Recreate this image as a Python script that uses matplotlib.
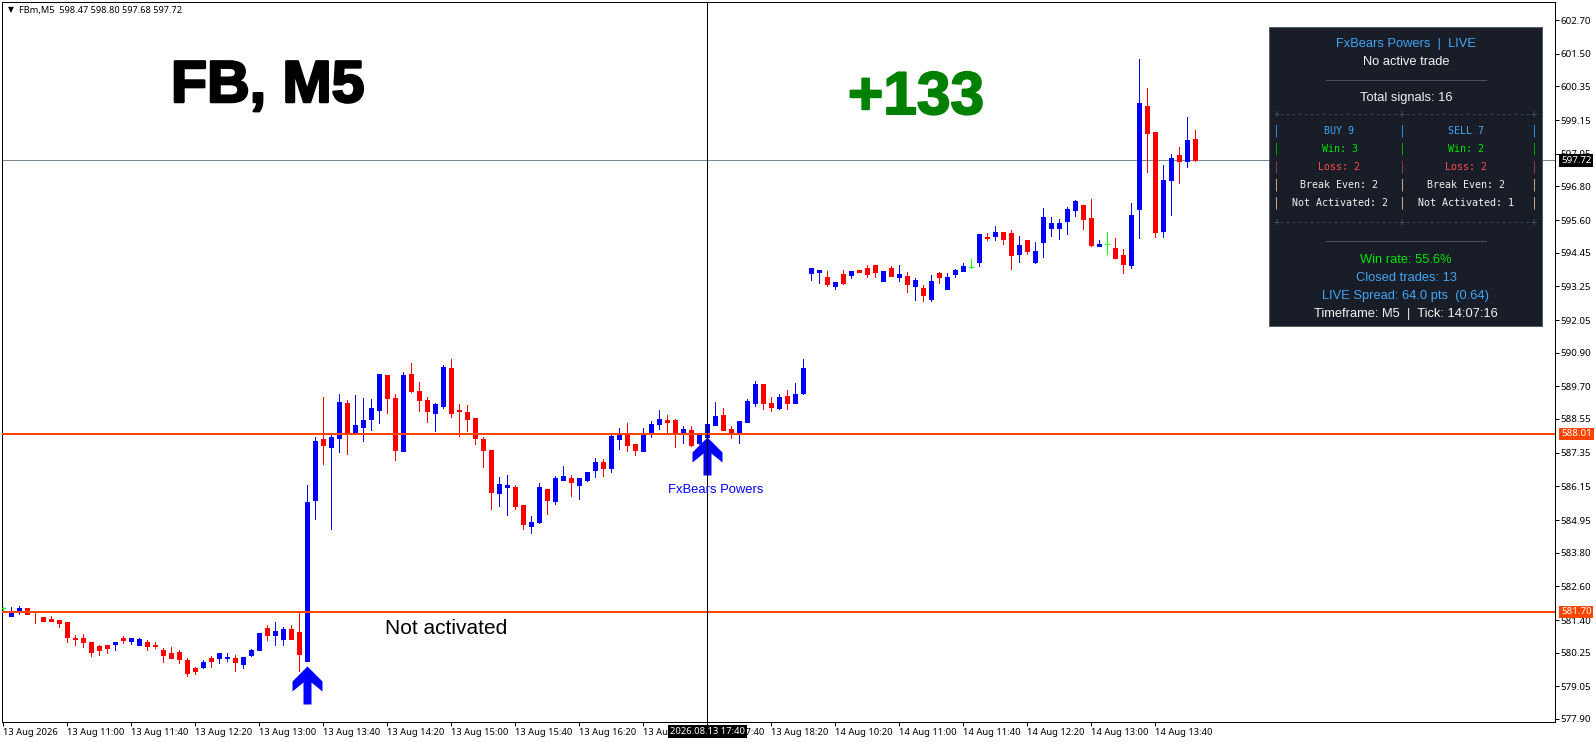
"""
FxBears Powers screenshot: FBm M5 candles with signal arrows and the stats panel.
"""

import matplotlib

matplotlib.use("Agg")
import matplotlib.patheffects as pe
import matplotlib.pyplot as plt
import numpy as np
from matplotlib.path import Path

# prices, one entry per M5 bar
opens = np.array([
    581.85, 581.56, 581.70, 581.83, 581.70, 581.51, 581.44, 581.41, 581.34, 580.78,
    580.77, 580.63, 580.49, 580.52, 580.56, 580.78, 580.66, 580.52, 580.63, 580.52,
    580.34, 580.24, 580.27, 579.99, 579.71, 579.74, 580.06, 580.06, 580.06, 580.06,
    579.85, 580.17, 580.34, 581.12, 580.88, 580.73, 581.09, 580.98, 579.95, 585.67,
    587.83, 587.55, 587.87, 589.11, 588.01, 588.26, 588.54, 588.86, 590.10, 589.29,
    587.41, 590.14, 589.54, 589.22, 588.75, 589.00, 590.35, 588.86, 588.79, 588.58,
    587.83, 587.44, 585.92, 586.13, 586.13, 585.49, 584.75, 584.89, 586.06, 585.63,
    586.38, 586.45, 586.20, 586.38, 586.73, 587.02, 586.80, 587.83, 587.97, 587.65,
    587.41, 588.08, 588.36, 588.51, 588.51, 588.05, 588.15, 587.69, 587.92, 588.33,
    588.68, 588.19, 588.08, 588.43, 589.11, 589.78, 589.11, 588.93, 589.36, 589.11,
    589.46, 593.72, 593.76, 593.58, 593.26, 593.69, 593.65, 593.83, 593.90, 594.01,
    593.44, 593.90, 593.58, 593.62, 593.26, 593.19, 592.80, 593.72, 593.15, 593.69,
    593.79, 593.92, 594.11, 595.00, 595.04, 595.18, 595.14, 594.40, 594.89, 594.11,
    594.82, 595.32, 595.32, 595.57, 595.96, 596.14, 595.67, 594.68, 594.74, 594.61,
    594.36, 594.01, 595.99, 599.65, 598.73, 595.21, 597.02, 597.91, 597.70, 598.47,
])
highs = np.array([
    581.86, 581.88, 581.91, 581.83, 581.70, 581.51, 581.55, 581.41, 581.34, 580.88,
    580.91, 580.63, 580.52, 580.52, 580.63, 580.84, 580.77, 580.76, 580.70, 580.63,
    580.41, 580.45, 580.34, 580.06, 579.74, 579.99, 580.13, 580.24, 580.24, 580.17,
    580.10, 580.38, 580.95, 581.23, 581.34, 581.16, 581.23, 581.70, 586.20, 587.90,
    589.32, 587.97, 589.43, 589.22, 589.39, 589.29, 589.25, 590.14, 590.10, 589.44,
    590.21, 590.53, 589.85, 589.32, 589.11, 590.46, 590.67, 589.07, 589.04, 588.58,
    587.90, 587.44, 586.48, 586.55, 586.20, 585.49, 585.10, 586.27, 586.06, 586.52,
    586.87, 586.55, 586.45, 586.66, 587.16, 587.12, 587.97, 588.22, 588.40, 587.65,
    588.22, 588.47, 588.86, 588.68, 588.54, 588.29, 588.29, 587.97, 588.36, 589.14,
    588.93, 588.29, 588.47, 589.25, 589.89, 589.78, 589.32, 589.43, 589.57, 589.82,
    590.67, 593.90, 593.83, 593.79, 593.40, 593.83, 593.79, 593.83, 594.01, 594.01,
    593.79, 593.97, 594.01, 593.76, 593.54, 593.30, 593.65, 593.76, 593.72, 593.87,
    594.08, 594.22, 595.11, 595.14, 595.39, 595.18, 595.25, 595.04, 594.89, 594.82,
    596.03, 595.71, 595.64, 596.07, 596.31, 596.14, 596.35, 594.89, 595.18, 594.96,
    594.57, 596.21, 601.32, 600.29, 598.73, 597.55, 597.95, 598.19, 599.26, 598.80,
])
lows = np.array([
    581.69, 581.56, 581.62, 581.63, 581.31, 581.37, 581.37, 581.17, 580.64, 580.53,
    580.45, 580.13, 580.17, 580.24, 580.34, 580.59, 580.56, 580.52, 580.34, 580.41,
    579.92, 580.06, 579.88, 579.42, 579.49, 579.71, 579.74, 579.88, 579.95, 579.60,
    579.71, 580.13, 580.34, 580.70, 580.52, 580.52, 580.73, 579.60, 579.95, 584.99,
    586.94, 584.64, 587.37, 587.30, 588.01, 587.76, 588.15, 588.40, 588.75, 587.09,
    587.41, 589.50, 588.83, 588.43, 588.12, 588.93, 588.61, 587.94, 588.12, 587.65,
    586.84, 585.35, 585.45, 585.13, 585.35, 584.64, 584.50, 584.85, 585.17, 585.53,
    586.38, 585.81, 585.70, 586.34, 586.48, 586.52, 586.66, 587.48, 587.41, 587.26,
    587.41, 587.90, 588.19, 588.01, 587.55, 587.69, 587.58, 587.65, 587.86, 588.33,
    588.15, 587.87, 587.69, 588.43, 589.00, 588.90, 588.83, 588.90, 588.90, 589.11,
    589.43, 593.47, 593.37, 593.26, 593.15, 593.33, 593.54, 593.76, 593.58, 593.58,
    593.44, 593.62, 593.44, 593.05, 592.77, 592.73, 592.73, 593.37, 593.15, 593.58,
    593.79, 593.90, 593.97, 594.89, 594.89, 594.75, 593.87, 594.11, 594.40, 594.08,
    594.29, 595.04, 594.93, 595.11, 595.75, 595.28, 594.68, 594.68, 594.40, 594.25,
    593.72, 593.90, 594.96, 597.31, 595.00, 595.00, 595.78, 596.92, 597.49, 597.68,
])
closes = np.array([
    581.85, 581.70, 581.83, 581.63, 581.68, 581.37, 581.37, 581.30, 580.82, 580.75,
    580.63, 580.27, 580.34, 580.41, 580.63, 580.70, 580.77, 580.73, 580.49, 580.49,
    580.17, 580.06, 580.03, 579.53, 579.60, 579.92, 579.95, 580.24, 580.10, 579.92,
    580.10, 580.34, 580.95, 580.88, 581.02, 581.09, 580.73, 580.20, 585.60, 587.76,
    587.62, 587.90, 589.14, 588.01, 588.33, 588.51, 588.93, 590.14, 589.29, 587.44,
    590.10, 589.54, 589.22, 588.83, 589.07, 590.39, 588.75, 588.83, 588.54, 587.87,
    587.44, 585.95, 586.24, 586.20, 585.45, 584.82, 584.89, 586.13, 585.67, 586.45,
    586.52, 586.31, 586.45, 586.66, 587.02, 586.80, 587.94, 587.97, 587.62, 587.44,
    587.97, 588.36, 588.54, 588.43, 588.05, 588.19, 587.62, 587.97, 588.36, 588.65,
    588.15, 588.01, 588.47, 589.18, 589.78, 589.11, 588.97, 589.32, 589.11, 589.43,
    590.35, 593.90, 593.83, 593.33, 593.40, 593.37, 593.79, 593.76, 593.69, 593.76,
    593.79, 593.62, 593.69, 593.33, 593.47, 592.94, 593.44, 593.58, 593.58, 593.83,
    593.97, 593.92, 595.11, 594.95, 595.18, 594.93, 594.36, 594.72, 594.50, 594.50,
    595.71, 595.50, 595.50, 595.99, 596.28, 595.64, 594.72, 594.75, 594.74, 594.25,
    594.04, 595.78, 599.76, 598.69, 595.18, 597.02, 597.80, 597.70, 598.44, 597.72,
])

price_ticks = [602.70, 601.50, 600.35, 599.15, 597.95, 596.80, 595.60, 594.45, 593.25, 592.05, 590.90,
               589.70, 588.55, 587.35, 586.15, 584.95, 583.80, 582.60, 581.40, 580.25, 579.05, 577.90]
time_labels = ["13 Aug 2026", "13 Aug 11:00", "13 Aug 11:40", "13 Aug 12:20", "13 Aug 13:00", "13 Aug 13:40",
               "13 Aug 14:20", "13 Aug 15:00", "13 Aug 15:40", "13 Aug 16:20", "13 Aug 17:00", "13 Aug 17:40",
               "13 Aug 18:20", "14 Aug 10:20", "14 Aug 11:00", "14 Aug 11:40", "14 Aug 12:20", "14 Aug 13:00",
               "14 Aug 13:40"]
TICK_EVERY = 8

level_prices = [588.01, 581.70]
last_price = 597.72
cursor_bar = 88
arrow_bars = [38, 88]
arrow_prices = [579.10, 587.23]

WIDTH, HEIGHT = 1596, 743
AX_LEFT, AX_RIGHT, AX_TOP, AX_BOTTOM = 2, 1555, 2, 722
SMALL_FONT = "Noto Sans"
UI_FONT = "Liberation Sans"
MONO_FONT = "DejaVu Sans Mono"
PX = 0.72  # one pixel in points at dpi 100

fig = plt.figure(figsize=(WIDTH / 100, HEIGHT / 100), dpi=100, facecolor="white")
ax = fig.add_axes([AX_LEFT / WIDTH, 1 - AX_BOTTOM / HEIGHT, (AX_RIGHT - AX_LEFT) / WIDTH, (AX_BOTTOM - AX_TOP) / HEIGHT])
ax.set_xlim(-0.1875, 193.94)
ax.set_ylim(577.79, 603.339)
for spine in ax.spines.values():
    spine.set_linewidth(PX)
    spine.set_color("black")

x = np.arange(len(opens))
colors = np.where(closes > opens, "#0000FF", np.where(closes < opens, "#FF0000", "#00FF00"))

ax.axhline(last_price, color="#778899", lw=PX, zorder=1)
ax.vlines(x, lows, highs, colors=colors, lw=PX, antialiased=False, zorder=3)
bottoms = np.minimum(opens, closes)
heights = np.abs(closes - opens)
ax.bar(x, heights, bottom=bottoms, width=0.5, color=colors, edgecolor=colors, linewidth=PX, antialiased=False, zorder=3)
for level in level_prices:
    ax.axhline(level, color="#FF4500", lw=2 * PX, zorder=4)

# signal arrows, outline in pixels around the marker centre
arrow_verts = [(0, 19), (15, 4), (15, -6), (4, 3), (4, -19), (-4, -19), (-4, 3), (-15, -6), (-15, 4), (0, 19)]
arrow_marker = Path(arrow_verts, closed=True)
ax.plot(arrow_bars, arrow_prices, ls="none", marker=arrow_marker, ms=38 * PX, mfc="#0000FF", mec="none", zorder=5)
ax.axvline(cursor_bar, color="black", lw=PX, zorder=6)

# axes
ax.yaxis.tick_right()
ax.set_yticks(price_ticks, labels=[f"{p:.2f}" for p in price_ticks], fontfamily=SMALL_FONT, fontsize=7)
ax.tick_params(axis="y", length=3.2, width=PX, pad=0.8, color="black")
tick_bars = np.arange(len(time_labels)) * TICK_EVERY
ax.set_xticks(tick_bars, labels=time_labels, ha="left", fontfamily=SMALL_FONT, fontsize=6.8)
ax.tick_params(axis="x", length=3, width=PX, pad=1.2, color="black")

# price tags on the right scale
label_x = 1 + 6 / (AX_RIGHT - AX_LEFT)
for price, bg in [(last_price, "black"), (level_prices[0], "#FF4500"), (level_prices[1], "#FF4500")]:
    ax.text(label_x, price, f"{price:.2f}", transform=ax.get_yaxis_transform(), va="center", ha="left", color="white",
            fontfamily=SMALL_FONT, fontsize=7, clip_on=False, zorder=20,
            bbox=dict(boxstyle="square,pad=0.18", fc=bg, ec=bg, lw=0))

# cursor time tag
ax.text(cursor_bar, 577.79 - 9.5 / 28.18, "2026.08.13 17:40", ha="center", va="center", color="white",
        fontfamily=SMALL_FONT, fontsize=6.8, clip_on=False, zorder=20,
        bbox=dict(boxstyle="square,pad=0.2", fc="black", ec="black", lw=0))

# labels drawn on the chart, placed in figure pixels
def fig_text(px, py, s, **kw):
    fig.text(px / WIDTH, 1 - py / HEIGHT, s, **kw)


fig_text(8, 10, "▼", family="DejaVu Sans", fontsize=5.5, ha="left", va="center")
fig_text(19, 10, "FBm,M5  598.47 598.80 597.68 597.72", family=SMALL_FONT, fontsize=6.6, ha="left", va="center")

bold = [pe.withStroke(linewidth=1.8, foreground="black")]
fig_text(171, 102, "FB, M5", family=UI_FONT, weight="bold", fontsize=42.5, ha="left", va="baseline", path_effects=bold)
bold_green = [pe.withStroke(linewidth=1.4, foreground="#008000")]
fig_text(848, 114, "+133", family=UI_FONT, weight="bold", fontsize=43.5, color="#008000", ha="left", va="baseline",
         path_effects=bold_green)
fig_text(385, 634, "Not activated", family=UI_FONT, fontsize=15, ha="left", va="baseline")
fig_text(668, 490, "FxBears Powers", family=UI_FONT, fontsize=9.4, color="#0000FF", ha="left", va="center")

# stats panel, its own axes in pixel units
P_LEFT, P_RIGHT, P_TOP, P_BOTTOM = 1269, 1542, 27, 326
panel = fig.add_axes([P_LEFT / WIDTH, 1 - P_BOTTOM / HEIGHT, (P_RIGHT - P_LEFT) / WIDTH, (P_BOTTOM - P_TOP) / HEIGHT],
                     zorder=10, facecolor="#181D27")
panel.set_xlim(P_LEFT, P_RIGHT)
panel.set_ylim(P_BOTTOM, P_TOP)
panel.set_xticks([])
panel.set_yticks([])
for spine in panel.spines.values():
    spine.set_color("#555B66")
    spine.set_linewidth(PX)

BLUE, GREEN, RED, WHITE = "#42A5F5", "#00E600", "#FF4D4D", "#F2F2F2"
CENTER = 1406
header_rows = [(44.5, "FxBears Powers  |  LIVE", BLUE), (62, "No active trade", WHITE), (98, "Total signals: 16", WHITE),
               (260, "Win rate: 55.6%", GREEN), (278, "Closed trades: 13", BLUE),
               (296, "LIVE Spread: 64.0 pts  (0.64)", BLUE), (314, "Timeframe: M5  |  Tick: 14:07:16", WHITE)]
for py, s, c in header_rows:
    panel.text(CENTER, py, s, color=c, family=UI_FONT, fontsize=9.3, ha="center", va="center")

for py in [79.5, 241]:
    panel.plot([1326, 1486], [py, py], color="#4A505C", lw=PX)

rule = "+" + "-" * 20 + "+" + "-" * 21 + "+"
for py in [114, 222]:
    panel.text(1274, py, rule, color="#47566A", family=MONO_FONT, fontsize=7.2, ha="left", va="center")

buy_rows = ["BUY 9", "Win: 3", "Loss: 2", "Break Even: 2", "Not Activated: 2"]
sell_rows = ["SELL 7", "Win: 2", "Loss: 2", "Break Even: 2", "Not Activated: 1"]
row_colors = [BLUE, GREEN, RED, WHITE, WHITE]
bar_colors = ["#2E86DE", "#00A000", "#8A3A44", "#C8A888", "#C8A888"]
row_ys = [131, 149, 167, 185, 203]
for py, b, s, c, bc in zip(row_ys, buy_rows, sell_rows, row_colors, bar_colors):
    panel.text(1339.5, py, b, color=c, family=MONO_FONT, fontsize=7.2, ha="center", va="center")
    panel.text(1466, py, s, color=c, family=MONO_FONT, fontsize=7.2, ha="center", va="center")
    for bar_x in [1277, 1403, 1535]:
        panel.text(bar_x, py, "|", color=bc, family=MONO_FONT, fontsize=8.5, ha="center", va="center")

fig.savefig("out.png", dpi=100, facecolor="white")
